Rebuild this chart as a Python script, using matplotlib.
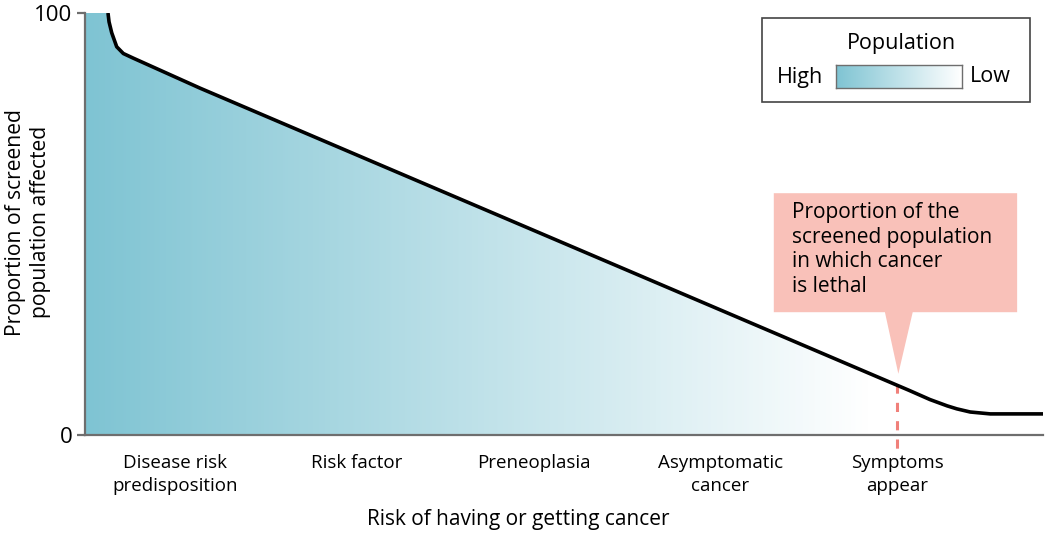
"""
Screened population vs risk of cancer: gradient-filled decline curve.
"""

import numpy as np
import matplotlib.pyplot as plt
from matplotlib.colors import LinearSegmentedColormap
from matplotlib.patches import Polygon, Rectangle

plt.rcParams["font.family"] = ["Open Sans", "DejaVu Sans"]

# Curve (x: 0-100 along the risk axis, y: % affected)
curve_x = [2.40, 2.51, 2.79, 3.31, 4.0, 5.04, 12.0, 83.0, 86.0, 88.2,
           90.0, 91.0, 92.4, 94.5, 100.0]
curve_y = [100.0, 97.9, 95.3, 92.0, 90.4, 89.3, 82.2, 13.5, 10.6, 8.4,
           6.9, 6.2, 5.45, 5.0, 5.0]

stage_pos = [9.4, 28.4, 46.9, 66.3, 84.8]
stage_labels = [
    "Disease risk\npredisposition",
    "Risk factor",
    "Preneoplasia",
    "Asymptomatic\ncancer",
    "Symptoms\nappear",
]
symptoms_x = 84.8
callout_text = "Proportion of the\nscreened population\nin which cancer\nis lethal"

teal = "#7fc4d3"
grey = "#6e6e6e"
pink = "#f9c1b9"
cmap = LinearSegmentedColormap.from_list("pop", [teal, "#ffffff"])

fig = plt.figure(figsize=(10.5, 5.38), dpi=100)
ax = fig.add_axes([85 / 1050, 103 / 538, 958 / 1050, 422 / 538])
ax.set_xlim(0, 100)
ax.set_ylim(0, 100)

# gradient fill under the curve
poly_x = [0, 0] + curve_x + [100]
poly_y = [0, 100] + curve_y + [0]
clip = Polygon(np.column_stack([poly_x, poly_y]), closed=True,
               facecolor="none", edgecolor="none")
ax.add_patch(clip)
grad = np.clip(np.linspace(0, 100, 500) / 82, 0, 1)[np.newaxis, :]
img = ax.imshow(grad, cmap=cmap, extent=[0, 100, 0, 100], aspect="auto",
                origin="lower", vmin=0, vmax=1, zorder=1)
img.set_clip_path(clip)

ax.plot(curve_x, curve_y, color="black", lw=2.6, zorder=3,
        solid_capstyle="butt", solid_joinstyle="round")

# spines and ticks
for side in ["top", "right"]:
    ax.spines[side].set_visible(False)
for side in ["left", "bottom"]:
    ax.spines[side].set_color(grey)
    ax.spines[side].set_linewidth(1.6)
    ax.spines[side].set_zorder(4)
ax.set_yticks([0, 100])
ax.tick_params(axis="y", length=6, width=1.6, color=grey, labelsize=16,
               pad=3)
ax.set_xticks(stage_pos)
ax.set_xticklabels(stage_labels, fontsize=13.5, linespacing=1.35)
ax.tick_params(axis="x", length=0, pad=14)

# dashed marker where symptoms appear
ax.plot([symptoms_x, symptoms_x], [12.0, -3.2], color="#f0807a", lw=2.2,
        dashes=(3, 3), clip_on=False, zorder=2)

# callout box with pointer
cx0, cx1, cy0, cy1 = 71.9, 97.3, 29.1, 57.3
callout = Polygon([(cx0, cy0), (cx0, cy1), (cx1, cy1), (cx1, cy0),
                   (86.4, cy0), (84.9, 14.5), (83.5, cy0)],
                  closed=True, facecolor=pink, edgecolor="none", zorder=2)
ax.add_patch(callout)
ax.text(73.8, 55.2, callout_text, fontsize=15, va="top", ha="left",
        linespacing=1.22, zorder=5)

# axis titles
fig.text(28 / 1050, 1 - 222 / 538, "Proportion of screened\npopulation affected",
         rotation=90, ha="center", va="center", fontsize=15.2, linespacing=1.2)
fig.text(518 / 1050, 1 - 519 / 538, "Risk of having or getting cancer",
         ha="center", va="center", fontsize=15)

# legend box
box = Rectangle((762 / 1050, 1 - 102 / 538), 268 / 1050, 84 / 538,
                transform=fig.transFigure, facecolor="white",
                edgecolor="#444444", lw=1.2, zorder=1.5)
fig.patches.append(box)
fig.text(901 / 1050, 1 - 43 / 538, "Population", ha="center", va="center",
         fontsize=15.5)
fig.text(800 / 1050, 1 - 77 / 538, "High", ha="center", va="center",
         fontsize=15.5)
fig.text(990 / 1050, 1 - 77 / 538, "Low", ha="center", va="center",
         fontsize=15.5)
cax = fig.add_axes([836 / 1050, 1 - 88 / 538, 126 / 1050, 23 / 538])
cax.set_zorder(2)
cax.imshow(np.linspace(0, 1, 200)[np.newaxis, :], cmap=cmap, aspect="auto")
cax.set_xticks([])
cax.set_yticks([])
for s in cax.spines.values():
    s.set_color(grey)
    s.set_linewidth(1.0)

fig.savefig("out.png", dpi=100)
